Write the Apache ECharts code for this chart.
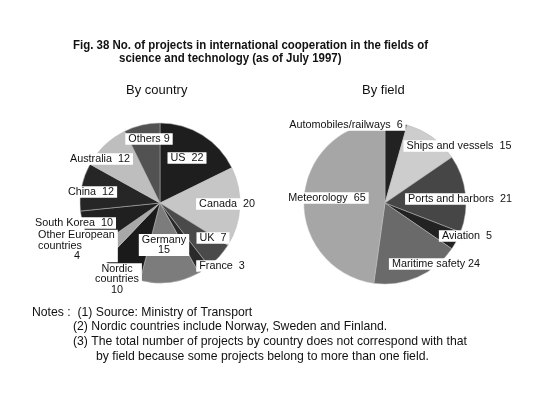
<!DOCTYPE html>
<html><head><meta charset="utf-8">
<script src="https://cdn.jsdelivr.net/npm/echarts@6/dist/echarts.min.js"></script>
<style>html,body{margin:0;padding:0;background:#fff}#c{width:556px;height:394px}</style>
</head><body><div id="c"></div>
<script>
const countryNames = ['US','Canada','UK','France','Germany','Nordic countries','Other European countries','South Korea','China','Australia','Others'];
const countryValues = [22,20,7,3,15,10,4,10,12,12,9];
const countryColors = ['#1e1e1e','#c6c6c6','#4a4a4a','#2a2a2a','#7c7c7c','#1a1a1a','#a8a8a8','#202020','#262626','#bebebe','#525252'];
const countryLabels = ['US  22','Canada  20','UK  7','France  3','Germany\n15','Nordic\ncountries\n10','Other European\ncountries\n            4','South Korea  10','China  12','Australia  12','Others 9'];
const countryLabelPos = [[187,158],[227,204],[213,238],[222,266],[164,245],[117,279.5],[35,246],[74,223],[91,192],[100,159],[149,139]];
const countryLabelAlign = ['center','center','center','center','center','center','left','center','center','center','center'];

const fieldNames = ['Automobiles/railways','Ships and vessels','Ports and harbors','Aviation','Maritime safety','Meteorology'];
const fieldValues = [6,15,21,5,24,65];
const fieldColors = ['#222222','#cdcdcd','#464646','#222222','#6a6a6a','#a6a6a6'];
const fieldLabels = ['Automobiles/railways  6','Ships and vessels  15','Ports and harbors  21','Aviation  5','Maritime safety 24','Meteorology  65'];
const fieldLabelPos = [[346,125],[459,146],[460,199],[467,236],[436,264],[327,198]];

const titleLines = ['Fig. 38 No. of projects in international cooperation in the fields of','science and technology (as of July 1997)'];
const noteLines = ['Notes :  (1) Source: Ministry of Transport','(2) Nordic countries include Norway, Sweden and Finland.','(3) The total number of projects by country does not correspond with that','by field because some projects belong to more than one field.'];

const cv = document.createElement('canvas').getContext('2d');
function w(font, text){cv.font=font;return cv.measureText(text).width;}
const FONT = 'Liberation Sans';
const titleFont = 'bold 12.5px "Liberation Sans"';
const titleScale = 355 / w(titleFont, titleLines[0]);
const noteSize = 100*394/w('100px "'+FONT+'"', noteLines[2]);
const LS = 10.8;

function labelStyle(){
  return {show:true, position:'inside', color:'#111', fontFamily:FONT, fontSize:LS, lineHeight:10.5,
    backgroundColor:'#fff', padding:[1,3,0,3], align:'center'};
}
function mk(names, values, colors, labels){
  return names.map((n,i)=>({name:n, value:values[i], itemStyle:{color:colors[i]}, label:{formatter:labels[i]}}));
}
const chart = echarts.init(document.getElementById('c'), null, {renderer:'canvas'});
chart.setOption({
  animation:false,
  backgroundColor:'#fff',
  title:[
    {text:'By country', left:126, top:84, padding:0,
     textStyle:{fontFamily:FONT, fontWeight:'normal', fontSize:13, color:'#111'}},
    {text:'By field', left:362, top:84, padding:0,
     textStyle:{fontFamily:FONT, fontWeight:'normal', fontSize:13, color:'#111'}}
  ],
  graphic:[
    {type:'text', x:73, y:39.5, scaleX:titleScale, style:{text:titleLines[0], font:titleFont, fill:'#111', textVerticalAlign:'top'}},
    {type:'text', x:119, y:52.5, scaleX:titleScale, style:{text:titleLines[1], font:titleFont, fill:'#111', textVerticalAlign:'top'}},
    {type:'text', left:32, top:307, style:{text:noteLines[0], font:noteSize+'px "Liberation Sans"', fill:'#111'}},
    {type:'text', left:73, top:321, style:{text:noteLines[1], font:noteSize+'px "Liberation Sans"', fill:'#111'}},
    {type:'text', left:73, top:336, style:{text:noteLines[2], font:noteSize+'px "Liberation Sans"', fill:'#111'}},
    {type:'text', left:96, top:351, style:{text:noteLines[3], font:noteSize+'px "Liberation Sans"', fill:'#111'}}
  ],
  series:[
    {type:'pie', center:[160,203], radius:80, startAngle:90, clockwise:true, silent:true,
     itemStyle:{borderColor:'#bbb', borderWidth:0.5},
     label:labelStyle(), labelLine:{show:false},
     labelLayout:function(p){const q=countryLabelPos[p.dataIndex];return {x:q[0],y:q[1],align:countryLabelAlign[p.dataIndex],verticalAlign:'middle'};},
     data:mk(countryNames,countryValues,countryColors,countryLabels)},
    {type:'pie', center:[385,203], radius:81, startAngle:90, clockwise:true, silent:true,
     itemStyle:{borderColor:'#bbb', borderWidth:0.5},
     label:labelStyle(), labelLine:{show:false},
     labelLayout:function(p){const q=fieldLabelPos[p.dataIndex];return {x:q[0],y:q[1],align:'center',verticalAlign:'middle'};},
     data:mk(fieldNames,fieldValues,fieldColors,fieldLabels)}
  ]
});
</script></body></html>
